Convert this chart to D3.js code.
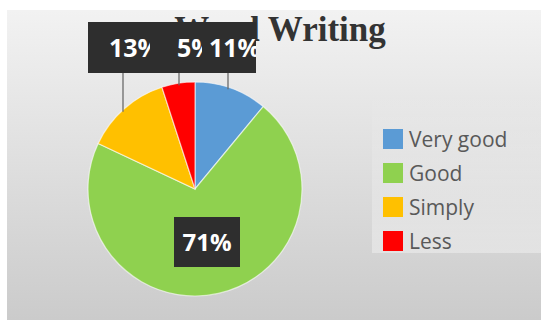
<!DOCTYPE html>
<html>
<head>
<meta charset="utf-8">
<script src="https://cdn.jsdelivr.net/npm/d3@7/dist/d3.min.js"></script>
<style>
  html, body { margin: 0; padding: 0; background: #ffffff; }
  svg { display: block; }
</style>
</head>
<body>
<svg id="chart" width="541" height="320"></svg>
<script>
// Survey results for word writing
const categories = ["Very good", "Good", "Simply", "Less"];
const values = [11, 71, 13, 5];
const colors = ["#5b9bd5", "#8fd14f", "#ffc000", "#ff0000"];
const title = "Word Writing";

const W = 541, H = 320;
const svg = d3.select("#chart");

// Background panel with a soft vertical gradient
const defs = svg.append("defs");
const grad = defs.append("linearGradient")
  .attr("id", "bg").attr("x1", 0).attr("y1", 0).attr("x2", 0).attr("y2", 1);
grad.append("stop").attr("offset", "0%").attr("stop-color", "#f2f2f2");
grad.append("stop").attr("offset", "100%").attr("stop-color", "#cbcbcb");

svg.append("rect").attr("x", 7).attr("y", 10).attr("width", W - 7).attr("height", H - 10)
  .attr("fill", "url(#bg)");

// Legend backing panel, fading in towards its lower edge
const lgGrad = defs.append("linearGradient")
  .attr("id", "legendBg").attr("x1", 0).attr("y1", 0).attr("x2", 0).attr("y2", 1);
lgGrad.append("stop").attr("offset", "0%").attr("stop-color", "#ffffff").attr("stop-opacity", 0);
lgGrad.append("stop").attr("offset", "100%").attr("stop-color", "#ffffff").attr("stop-opacity", 0.35);
svg.append("rect").attr("x", 372).attr("y", 90).attr("width", W - 372).attr("height", 163)
  .attr("fill", "url(#legendBg)");

// Title
svg.append("text")
  .attr("x", 280).attr("y", 41)
  .attr("text-anchor", "middle")
  .attr("font-family", "'Liberation Serif', 'DejaVu Serif', serif")
  .attr("font-weight", "bold")
  .attr("font-size", 35)
  .attr("fill", "#333333")
  .text(title);

// Pie
const cx = 195, cy = 189, R = 107;
const pie = d3.pie().sort(null).value(d => d)
  .startAngle(0).endAngle(2 * Math.PI);
const arcs = pie(values);
const arc = d3.arc().innerRadius(0).outerRadius(R);

const g = svg.append("g").attr("transform", `translate(${cx},${cy})`);
g.selectAll("path.slice")
  .data(arcs)
  .join("path")
  .attr("class", "slice")
  .attr("d", arc)
  .attr("fill", (d, i) => colors[i])
  .attr("stroke", "#ffffff")
  .attr("stroke-opacity", 0.6)
  .attr("stroke-width", 1.2);

// Data labels: dark callout boxes, white bold text
const fmt = v => v + "%";
const labelFont = "'Open Sans', 'DejaVu Sans', sans-serif";

// Callouts above the pie, drawn in order so later boxes sit on top
// [slice index, box x, box width, text x, leader x]
const topCallouts = [
  [2, 88, 66, 109, 123],
  [3, 150, 56, 177, 179],
  [0, 202, 54, 209, 228]
];
const boxTop = 22, boxH = 51;

// Leader lines from the box down to the slice edge
topCallouts.forEach(([i, bx, bw, tx, lx]) => {
  const dx = lx - cx;
  const yEdge = cy - Math.sqrt(R * R - dx * dx);
  svg.append("line")
    .attr("x1", lx).attr("x2", lx)
    .attr("y1", boxTop + boxH).attr("y2", yEdge + 2)
    .attr("stroke", "#6b6b6b").attr("stroke-width", 1.3);
});

topCallouts.forEach(([i, bx, bw, tx], k) => {
  const clipId = "clip" + k;
  defs.append("clipPath").attr("id", clipId)
    .append("rect").attr("x", bx).attr("y", boxTop).attr("width", bw).attr("height", boxH);
  svg.append("rect")
    .attr("x", bx).attr("y", boxTop).attr("width", bw).attr("height", boxH)
    .attr("fill", "#2e2e2e");
  svg.append("text")
    .attr("clip-path", `url(#${clipId})`)
    .attr("x", tx).attr("y", 57)
    .attr("font-family", labelFont)
    .attr("font-weight", "bold")
    .attr("font-size", 25)
    .attr("fill", "#ffffff")
    .text(fmt(values[i]));
});

// Label inside the large slice
const mainIdx = 1;
const mb = { x: 174, y: 217, w: 66, h: 50 };
svg.append("rect")
  .attr("x", mb.x).attr("y", mb.y).attr("width", mb.w).attr("height", mb.h)
  .attr("fill", "#2e2e2e");
svg.append("text")
  .attr("x", mb.x + mb.w / 2).attr("y", mb.y + 34)
  .attr("text-anchor", "middle")
  .attr("font-family", labelFont)
  .attr("font-weight", "bold")
  .attr("font-size", 24)
  .attr("fill", "#ffffff")
  .text(fmt(values[mainIdx]));

// Legend
const legend = svg.append("g").attr("transform", "translate(383,129)");
const rowH = 34;
const item = legend.selectAll("g.item")
  .data(categories)
  .join("g")
  .attr("class", "item")
  .attr("transform", (d, i) => `translate(0,${i * rowH})`);
item.append("rect")
  .attr("width", 20).attr("height", 20)
  .attr("fill", (d, i) => colors[i]);
item.append("text")
  .attr("x", 26).attr("y", 18)
  .attr("font-family", labelFont)
  .attr("font-size", 21)
  .attr("fill", "#595959")
  .text(d => d);
</script>
</body>
</html>
